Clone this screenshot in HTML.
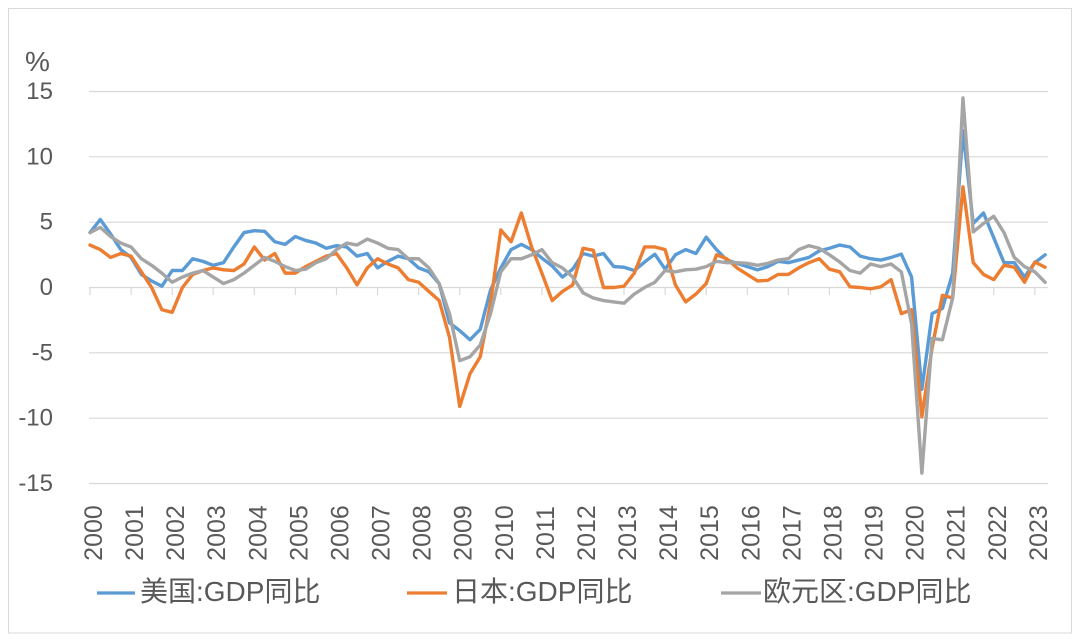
<!DOCTYPE html>
<html><head><meta charset="utf-8">
<style>
html,body{margin:0;padding:0;background:#fff;}
svg{display:block;}
text{font-family:"Liberation Sans","Noto Sans CJK SC",sans-serif;fill:#595959;}
</style></head>
<body>
<svg width="1080" height="643" viewBox="0 0 1080 643" xmlns="http://www.w3.org/2000/svg">
<rect x="0" y="0" width="1080" height="643" fill="#fff"/>
<rect x="8.5" y="8.5" width="1063" height="624.5" fill="none" stroke="#D9D9D9" stroke-width="1"/>
<g stroke="#D9D9D9" stroke-width="1.2">
<line x1="89" y1="91.5" x2="1048" y2="91.5"/>
<line x1="89" y1="156.8" x2="1048" y2="156.8"/>
<line x1="89" y1="222.2" x2="1048" y2="222.2"/>
<line x1="89" y1="287.5" x2="1048" y2="287.5"/>
<line x1="89" y1="352.8" x2="1048" y2="352.8"/>
<line x1="89" y1="418.2" x2="1048" y2="418.2"/>
<line x1="89" y1="483.5" x2="1048" y2="483.5"/>
</g>
<g stroke="#D9D9D9" stroke-width="1.2">
<line x1="90" y1="287.5" x2="90" y2="295"/>
<line x1="131.1" y1="287.5" x2="131.1" y2="295"/>
<line x1="172.2" y1="287.5" x2="172.2" y2="295"/>
<line x1="213.2" y1="287.5" x2="213.2" y2="295"/>
<line x1="254.3" y1="287.5" x2="254.3" y2="295"/>
<line x1="295.4" y1="287.5" x2="295.4" y2="295"/>
<line x1="336.5" y1="287.5" x2="336.5" y2="295"/>
<line x1="377.6" y1="287.5" x2="377.6" y2="295"/>
<line x1="418.6" y1="287.5" x2="418.6" y2="295"/>
<line x1="459.7" y1="287.5" x2="459.7" y2="295"/>
<line x1="500.8" y1="287.5" x2="500.8" y2="295"/>
<line x1="541.9" y1="287.5" x2="541.9" y2="295"/>
<line x1="583" y1="287.5" x2="583" y2="295"/>
<line x1="624" y1="287.5" x2="624" y2="295"/>
<line x1="665.1" y1="287.5" x2="665.1" y2="295"/>
<line x1="706.2" y1="287.5" x2="706.2" y2="295"/>
<line x1="747.3" y1="287.5" x2="747.3" y2="295"/>
<line x1="788.4" y1="287.5" x2="788.4" y2="295"/>
<line x1="829.4" y1="287.5" x2="829.4" y2="295"/>
<line x1="870.5" y1="287.5" x2="870.5" y2="295"/>
<line x1="911.6" y1="287.5" x2="911.6" y2="295"/>
<line x1="952.7" y1="287.5" x2="952.7" y2="295"/>
<line x1="993.8" y1="287.5" x2="993.8" y2="295"/>
<line x1="1034.8" y1="287.5" x2="1034.8" y2="295"/>
</g>
<text x="25" y="71" font-size="28">%</text>
<g font-size="24" text-anchor="end" dominant-baseline="central">
<text x="53" y="91.5">15</text>
<text x="53" y="156.8">10</text>
<text x="53" y="222.2">5</text>
<text x="53" y="287.5">0</text>
<text x="53" y="352.8">-5</text>
<text x="53" y="418.2">-10</text>
<text x="53" y="483.5">-15</text>
</g>
<g font-size="25" text-anchor="middle" dominant-baseline="central">
<text transform="translate(94,533) rotate(-90)">2000</text>
<text transform="translate(135.1,533) rotate(-90)">2001</text>
<text transform="translate(176.2,533) rotate(-90)">2002</text>
<text transform="translate(217.2,533) rotate(-90)">2003</text>
<text transform="translate(258.3,533) rotate(-90)">2004</text>
<text transform="translate(299.4,533) rotate(-90)">2005</text>
<text transform="translate(340.5,533) rotate(-90)">2006</text>
<text transform="translate(381.6,533) rotate(-90)">2007</text>
<text transform="translate(422.6,533) rotate(-90)">2008</text>
<text transform="translate(463.7,533) rotate(-90)">2009</text>
<text transform="translate(504.8,533) rotate(-90)">2010</text>
<text transform="translate(545.9,533) rotate(-90)">2011</text>
<text transform="translate(587,533) rotate(-90)">2012</text>
<text transform="translate(628,533) rotate(-90)">2013</text>
<text transform="translate(669.1,533) rotate(-90)">2014</text>
<text transform="translate(710.2,533) rotate(-90)">2015</text>
<text transform="translate(751.3,533) rotate(-90)">2016</text>
<text transform="translate(792.4,533) rotate(-90)">2017</text>
<text transform="translate(833.4,533) rotate(-90)">2018</text>
<text transform="translate(874.5,533) rotate(-90)">2019</text>
<text transform="translate(915.6,533) rotate(-90)">2020</text>
<text transform="translate(956.7,533) rotate(-90)">2021</text>
<text transform="translate(997.8,533) rotate(-90)">2022</text>
<text transform="translate(1038.8,533) rotate(-90)">2023</text>
</g>
<g transform="translate(90,287.5) scale(10.27,-13.07)" fill="none" stroke-linejoin="round" stroke-linecap="round">
<polyline vector-effect="non-scaling-stroke" stroke="#5B9BD5" stroke-width="3.4" points="0,4.2 1,5.2 2,4.1 3,2.9 4,2.3 5,1.0 6,0.5 7,0.1 8,1.3 9,1.3 10,2.2 11,2.0 12,1.7 13,1.9 14,3.1 15,4.2 16,4.35 17,4.3 18,3.5 19,3.3 20,3.9 21,3.6 22,3.4 23,3.0 24,3.2 25,3.1 26,2.4 27,2.6 28,1.5 29,2.0 30,2.4 31,2.2 32,1.5 33,1.2 34,0.3 35,-2.7 36,-3.3 37,-4.0 38,-3.2 39,-0.2 40,1.5 41,2.9 42,3.3 43,2.9 44,2.25 45,1.65 46,0.8 47,1.4 48,2.6 49,2.4 50,2.6 51,1.6 52,1.55 53,1.3 54,1.95 55,2.55 56,1.4 57,2.5 58,2.9 59,2.6 60,3.85 61,2.9 62,2.1 63,1.85 64,1.6 65,1.35 66,1.6 67,2.0 68,1.9 69,2.1 70,2.3 71,2.8 72,3.0 73,3.25 74,3.1 75,2.4 76,2.2 77,2.1 78,2.3 79,2.55 80,0.8 81,-7.8 82,-2.0 83,-1.6 84,1.1 85,12.0 86,4.9 87,5.7 88,3.8 89,1.9 90,1.9 91,0.8 92,1.9 93,2.5"/>
<polyline vector-effect="non-scaling-stroke" stroke="#ED7D31" stroke-width="3.4" points="0,3.25 1,2.9 2,2.3 3,2.6 4,2.4 5,1.2 6,0.0 7,-1.7 8,-1.9 9,0.0 10,1.0 11,1.3 12,1.5 13,1.35 14,1.3 15,1.8 16,3.1 17,2.1 18,2.6 19,1.1 20,1.1 21,1.6 22,2.0 23,2.4 24,2.6 25,1.5 26,0.2 27,1.5 28,2.2 29,1.8 30,1.5 31,0.6 32,0.4 33,-0.3 34,-1.0 35,-3.8 36,-9.1 37,-6.6 38,-5.3 39,-1.2 40,4.4 41,3.5 42,5.7 43,3.1 44,1.1 45,-1.0 46,-0.3 47,0.2 48,3.0 49,2.85 50,0.0 51,0.0 52,0.1 53,1.1 54,3.1 55,3.1 56,2.9 57,0.2 58,-1.1 59,-0.5 60,0.3 61,2.5 62,2.2 63,1.5 64,1.0 65,0.5 66,0.55 67,1.0 68,1.0 69,1.5 70,1.9 71,2.2 72,1.4 73,1.2 74,0.05 75,0.0 76,-0.1 77,0.05 78,0.6 79,-2.0 80,-1.7 81,-9.9 82,-4.6 83,-0.6 84,-0.8 85,7.7 86,1.9 87,1.0 88,0.6 89,1.7 90,1.55 91,0.4 92,1.95 93,1.55"/>
<polyline vector-effect="non-scaling-stroke" stroke="#A5A5A5" stroke-width="3.4" points="0,4.2 1,4.6 2,3.9 3,3.4 4,3.1 5,2.2 6,1.7 7,1.1 8,0.4 9,0.8 10,1.1 11,1.3 12,0.8 13,0.3 14,0.6 15,1.1 16,1.7 17,2.3 18,2.0 19,1.6 20,1.3 21,1.4 22,1.9 23,2.2 24,2.9 25,3.4 26,3.25 27,3.7 28,3.4 29,3.0 30,2.9 31,2.2 32,2.2 33,1.5 34,0.3 35,-2.0 36,-5.6 37,-5.3 38,-4.4 39,-2.0 40,1.2 41,2.2 42,2.2 43,2.5 44,2.9 45,1.9 46,1.5 47,0.8 48,-0.4 49,-0.8 50,-1.0 51,-1.1 52,-1.2 53,-0.5 54,0.0 55,0.4 56,1.3 57,1.2 58,1.35 59,1.4 60,1.6 61,2.0 62,1.9 63,1.9 64,1.85 65,1.7 66,1.85 67,2.1 68,2.2 69,2.9 70,3.2 71,3.0 72,2.5 73,1.95 74,1.3 75,1.1 76,1.8 77,1.6 78,1.8 79,1.2 80,-2.8 81,-14.2 82,-3.9 83,-4.0 84,-0.8 85,14.5 86,4.25 87,4.9 88,5.45 89,4.2 90,2.3 91,1.6 92,1.2 93,0.4"/>
</g>
<g stroke-width="3.2">
<line x1="97" y1="593" x2="135" y2="593" stroke="#5B9BD5"/>
<line x1="407" y1="593" x2="447" y2="593" stroke="#ED7D31"/>
<line x1="721" y1="593" x2="761" y2="593" stroke="#A5A5A5"/>
</g>
<g font-size="28">
<text x="140" y="601">美国:GDP同比</text>
<text x="452" y="601">日本:GDP同比</text>
<text x="763" y="601">欧元区:GDP同比</text>
</g>
</svg>
</body></html>
